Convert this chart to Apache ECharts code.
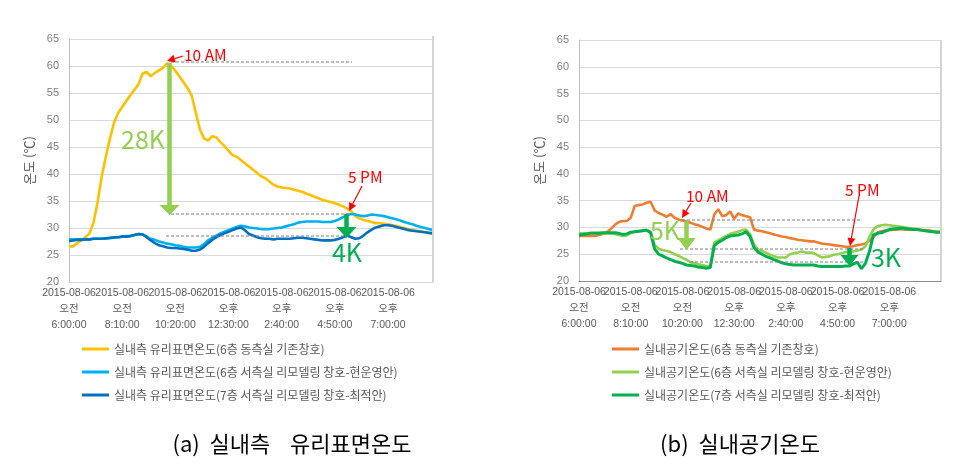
<!DOCTYPE html>
<html>
<head>
<meta charset="utf-8">
<script src="https://cdn.jsdelivr.net/npm/echarts@6/dist/echarts.min.js"></script>
<style>
html,body{margin:0;padding:0;background:#fff;}
#chart{width:967px;height:471px;}
</style>
</head>
<body>
<div id="chart"></div>
<script>
// ---------- data ----------
const seriesNamesA = [
  '실내측 유리표면온도(6층 동측실 기존창호)',
  '실내측 유리표면온도(6층 서측실 리모델링 창호-현운영안)',
  '실내측 유리표면온도(7층 서측실 리모델링 창호-최적안)'
];
const seriesNamesB = [
  '실내공기온도(6층 동측실 기존창호)',
  '실내공기온도(6층 서측실 리모델링 창호-현운영안)',
  '실내공기온도(7층 서측실 리모델링 창호-최적안)'
];
const yTicks = [20, 25, 30, 35, 40, 45, 50, 55, 60, 65];
const captionA = '(a)  실내측    유리표면온도';
const captionB = '(b)  실내공기온도';

// (a) glass surface temperatures, 10-min steps from 06:00
const glassEast6 = [26.6,26.6,27.2,27.7,28.3,29.0,31.0,34.8,39.5,43.2,46.5,49.5,51.3,52.4,53.5,54.6,55.6,56.6,58.6,58.9,
  58.1,58.7,59.2,59.7,60.5,60.0,59.1,58.1,57.0,55.9,54.5,51.4,48.3,46.6,46.2,47.0,46.8,45.9,45.2,44.3,
  43.5,43.2,42.6,42.0,41.4,40.8,40.2,39.6,39.2,38.6,38.0,37.7,37.5,37.4,37.3,37.1,36.9,36.7,36.4,36.1,
  35.8,35.5,35.2,35.0,34.8,34.6,34.3,34.0,33.6,33.1,32.2,31.8,31.5,31.3,31.1,30.9,30.9,30.8,30.7,30.5,
  30.4,30.2,30.0,29.8,29.6,29.5,29.4,29.2,29.1,29.0];
const glassWest6 = [27.9,27.9,27.9,27.9,27.9,27.9,28.0,28.0,28.0,28.0,28.1,28.2,28.3,28.4,28.5,28.5,28.7,28.9,28.8,28.4,
  28.0,27.8,27.5,27.3,27.1,27.0,26.8,26.7,26.5,26.4,26.4,26.4,26.5,27.0,27.7,28.2,28.6,29.0,29.3,29.6,
  29.9,30.2,30.4,30.3,30.1,30.0,29.9,29.8,29.8,29.8,29.9,30.0,30.1,30.3,30.5,30.7,31.0,31.1,31.2,31.2,
  31.2,31.2,31.1,31.1,31.1,31.3,31.6,32.0,32.4,32.6,32.5,32.3,32.2,32.3,32.5,32.4,32.3,32.2,32.0,31.8,
  31.6,31.4,31.1,30.9,30.7,30.4,30.2,30.0,29.8,29.6];
const glassWest7 = [27.6,27.7,27.8,27.8,27.9,27.9,28.0,28.0,28.0,28.1,28.2,28.3,28.3,28.4,28.4,28.5,28.7,28.9,28.8,28.3,
  27.7,27.2,26.8,26.6,26.4,26.3,26.3,26.2,26.1,26.0,25.8,25.8,26.0,26.5,27.2,27.8,28.3,28.7,29.0,29.3,
  29.6,29.9,30.1,29.6,28.9,28.6,28.3,28.1,28.0,28.0,27.9,28.0,28.0,28.0,28.0,28.1,28.2,28.2,28.1,28.0,
  27.9,27.8,27.7,27.7,27.7,27.8,28.0,28.3,28.6,28.3,28.0,28.1,28.6,29.2,29.7,30.1,30.3,30.5,30.5,30.4,
  30.2,30.0,29.8,29.6,29.5,29.4,29.3,29.2,29.1,29.0];

// (b) indoor air temperatures, 10-min steps from 06:00
const airEast6 = [28.4,28.4,28.4,28.4,28.4,28.6,28.8,29.1,29.7,30.5,31.0,31.2,31.2,31.8,34.0,34.2,34.3,34.6,34.8,33.2,
  32.7,32.4,32.0,32.5,31.8,31.5,31.3,31.1,30.9,30.6,30.4,30.1,29.8,29.6,32.4,33.4,32.1,32.3,33.0,31.6,
  32.6,32.3,32.1,31.9,29.6,29.4,29.3,29.1,28.9,28.7,28.5,28.3,28.2,28.0,27.9,27.7,27.6,27.5,27.4,27.4,
  27.2,27.0,26.9,26.8,26.7,26.6,26.5,26.4,26.4,26.5,26.7,26.8,27.0,27.5,28.2,29.0,29.3,29.4,29.5,29.6,
  29.6,29.7,29.6,29.6,29.6,29.6,29.5,29.5,29.4,29.3,29.2,29.2];
const airWest6 = [28.9,28.9,28.9,29.0,29.0,29.0,28.9,28.9,28.9,28.8,28.6,28.4,28.5,29.0,29.2,29.3,29.4,29.5,29.2,26.8,
  26.0,25.8,25.6,25.4,25.0,24.7,24.3,24.0,23.5,23.3,23.1,23.0,22.8,22.7,27.2,27.6,28.0,28.4,28.8,29.0,
  29.2,29.5,29.6,28.8,26.8,25.9,25.6,25.3,24.9,24.6,24.4,24.4,24.4,25.0,25.2,25.3,25.5,25.3,25.3,25.2,
  24.8,24.4,24.5,24.6,24.9,25.0,25.2,25.4,25.5,25.5,25.7,25.9,26.5,28.2,29.6,30.2,30.4,30.5,30.4,30.3,
  30.2,30.1,30.0,29.9,29.8,29.7,29.5,29.4,29.3,29.2,29.1,29.1];
const airWest7 = [28.6,28.7,28.8,28.9,28.9,28.9,29.0,29.0,29.0,29.0,28.9,28.7,28.8,29.1,29.2,29.3,29.4,29.5,29.0,26.0,
  25.0,24.7,24.3,24.0,23.7,23.5,23.3,23.0,22.9,22.8,22.6,22.5,22.4,22.5,26.6,27.2,27.6,28.1,28.4,28.5,
  28.6,28.8,29.2,28.3,26.2,25.4,25.0,24.6,24.3,24.0,23.7,23.4,23.2,23.1,23.0,23.0,23.0,23.0,23.0,23.0,
  22.8,22.7,22.7,22.7,22.7,22.7,22.7,22.8,22.8,23.2,23.5,22.3,23.3,25.5,28.6,28.9,29.0,29.3,29.6,29.7,
  29.8,29.9,29.8,29.7,29.6,29.6,29.5,29.4,29.3,29.2,29.1,29.1];

// ---------- categories (time stamps) ----------
function makeCats(n){
  const out=[];
  for(let i=0;i<n;i++){
    const m=360+10*i, h=Math.floor(m/60), mm=m%60;
    const ap = h<12 ? '오전' : '오후';
    const h12 = h>12 ? h-12 : h;
    out.push('2015-08-06\n'+ap+'\n'+h12+':'+String(mm).padStart(2,'0')+':00');
  }
  return out;
}
const catsA = makeCats(glassEast6.length);
const catsB = makeCats(airEast6.length);
const LABEL_STEP = 13, LABEL_LAST = 78;

// ---------- chart ----------
const FONT = '"Liberation Sans","Noto Sans CJK KR",sans-serif';
const KFONT = '"Noto Sans CJK KR","Liberation Sans",sans-serif';
const chart = echarts.init(document.getElementById('chart'), null, {renderer:'canvas'});

// two overlaid category axes per grid so the tightly packed labels are never auto-hidden
function xAxis(gi, cats, parity, showLine){
  return {
    type:'category', gridIndex:gi, data:cats, boundaryGap:false, position:'bottom', offset:0,
    axisLine:{show: showLine, lineStyle:{color:'#8c8c8c', width:1}},
    axisTick:{show:false},
    splitLine:{show:false},
    axisLabel:{
      interval:function(idx){ return idx%LABEL_STEP===0 && idx<=LABEL_LAST && (idx/LABEL_STEP)%2===parity; },
      hideOverlap:false,
      color:'#595959', fontSize:10.5, fontFamily:FONT, lineHeight:16, margin:3}
  };
}
function yAxis(gi){
  return {
    type:'value', gridIndex:gi, min:20, max:65, interval:5,
    name:'온도 (℃)', nameLocation:'middle', nameGap:33, nameRotate:90,
    nameTextStyle:{color:'#595959', fontSize:13, fontFamily:KFONT},
    axisLine:{show:true, lineStyle:{color:'#bfbfbf', width:1}},
    axisTick:{show:false},
    axisLabel:{color:'#7f7f7f', fontSize:11, fontFamily:FONT, margin:10,
      formatter:function(v){ return yTicks.indexOf(v)>=0 ? String(v) : ''; }},
    splitLine:{show:true, lineStyle:{color:'#d9d9d9', width:1}}
  };
}
function line(name, data, color, xi, yi, w){
  return {type:'line', name:name, data:data, xAxisIndex:xi, yAxisIndex:yi,
    symbol:'none', smooth:false, lineStyle:{color:color, width:w||2.6}, itemStyle:{color:color},
    emphasis:{disabled:true}};
}

// ---------- annotation helpers (pixel decorations) ----------
function seg(x1,y1,x2,y2,color,w,dash){
  return {type:'line', shape:{x1,y1,x2,y2}, style:{stroke:color, lineWidth:w, lineDash:dash||null}, silent:true, z:100};
}
function redArrow(x1,y1,x2,y2){
  const dx=x2-x1, dy=y2-y1, L=Math.hypot(dx,dy), ux=dx/L, uy=dy/L, hl=8, hw=4;
  const bx=x2-ux*hl, by=y2-uy*hl;
  return [
    seg(x1,y1,bx,by,'#ff0000',1.2),
    {type:'polygon', shape:{points:[[x2,y2],[bx-uy*hw,by+ux*hw],[bx+uy*hw,by-ux*hw]]}, style:{fill:'#ff0000'}, silent:true, z:101}
  ];
}
function blockArrow(x,y1,y2,headStart,shaftW,headW,color){
  return [
    {type:'rect', shape:{x:x-shaftW/2, y:y1, width:shaftW, height:headStart-y1}, style:{fill:color}, silent:true, z:100},
    {type:'polygon', shape:{points:[[x-headW/2,headStart],[x+headW/2,headStart],[x,y2]]}, style:{fill:color}, silent:true, z:100}
  ];
}
function txt(x,y,text,color,size,align){
  return {type:'text', x:x, y:y, style:{text:text, fill:color, fontSize:size, fontFamily:KFONT, align:align||'center', verticalAlign:'middle'}, silent:true, z:102};
}
const DASH = '#7f7f7f';
const graphics = [].concat(
  // plot right borders
  [seg(433,36,433,282,'#d4d4d4',2), seg(941,40,941,281,'#d4d4d4',2)],
  // (a)
  [seg(171,62,352,62,DASH,1,[3,2]), seg(171,214,351,214,DASH,1,[3,2]), seg(166,236,346,236,DASH,1,[3,2])],
  blockArrow(169.5,63,215,205,4.5,20,'#92d050'),
  blockArrow(346.5,214,238,227,4.5,20,'#00b050'),
  redArrow(183,56,167,61),
  redArrow(362,186,349,211),
  [txt(184,55,'10 AM','#ff0000',15.5,'left'), txt(348,177,'5 PM','#ff0000',15.5,'left'),
   txt(143,139,'28K','#92d050',25), txt(347,252,'4K','#00b050',25)],
  // (b)
  [seg(682,220,862,220,DASH,1,[3,2]), seg(680,249,863,249,DASH,1,[3,2]), seg(690,262,863,262,DASH,1,[3,2])],
  blockArrow(686.5,221,250,238,4.5,18,'#92d050'),
  blockArrow(849.5,248,266,255,4.5,18,'#00b050'),
  redArrow(691,203,682,218),
  redArrow(859,196,850,246),
  [txt(686,196,'10 AM','#ff0000',15.5,'left'), txt(845,190,'5 PM','#ff0000',15.5,'left'),
   txt(665,230,'5K','#92d050',25), txt(886,257,'3K','#00b050',25)],
  // captions
  [txt(292,444,captionA,'#000000',22), txt(740,444,captionB,'#000000',22)]
);

const legendCommon = {
  orient:'vertical', icon:'rect', itemWidth:27, itemHeight:3, itemGap:11,
  textStyle:{color:'#595959', fontSize:12, fontFamily:KFONT},
  selectedMode:false
};

chart.setOption({
  backgroundColor:'#ffffff',
  animation:false,
  grid:[
    {left:69, top:39, width:364, height:243, containLabel:false},
    {left:579, top:40, width:362, height:241, containLabel:false}
  ],
  xAxis:[xAxis(0,catsA,0,false), xAxis(0,catsA,1,false), xAxis(1,catsB,0,true), xAxis(1,catsB,1,false)],
  yAxis:[yAxis(0), yAxis(1)],
  legend:[
    Object.assign({left:77, top:338, data:seriesNamesA}, legendCommon),
    Object.assign({left:607, top:338, data:seriesNamesB}, legendCommon)
  ],
  series:[
    line(seriesNamesA[0], glassEast6, '#ffc000', 0, 0),
    line(seriesNamesA[1], glassWest6, '#00b0f0', 0, 0),
    line(seriesNamesA[2], glassWest7, '#0070c0', 0, 0),
    line(seriesNamesB[0], airEast6, '#ed7d31', 2, 1),
    line(seriesNamesB[1], airWest6, '#92d050', 2, 1),
    line(seriesNamesB[2], airWest7, '#00b050', 2, 1, 3)
  ],
  graphic:graphics
});
</script>
</body>
</html>
